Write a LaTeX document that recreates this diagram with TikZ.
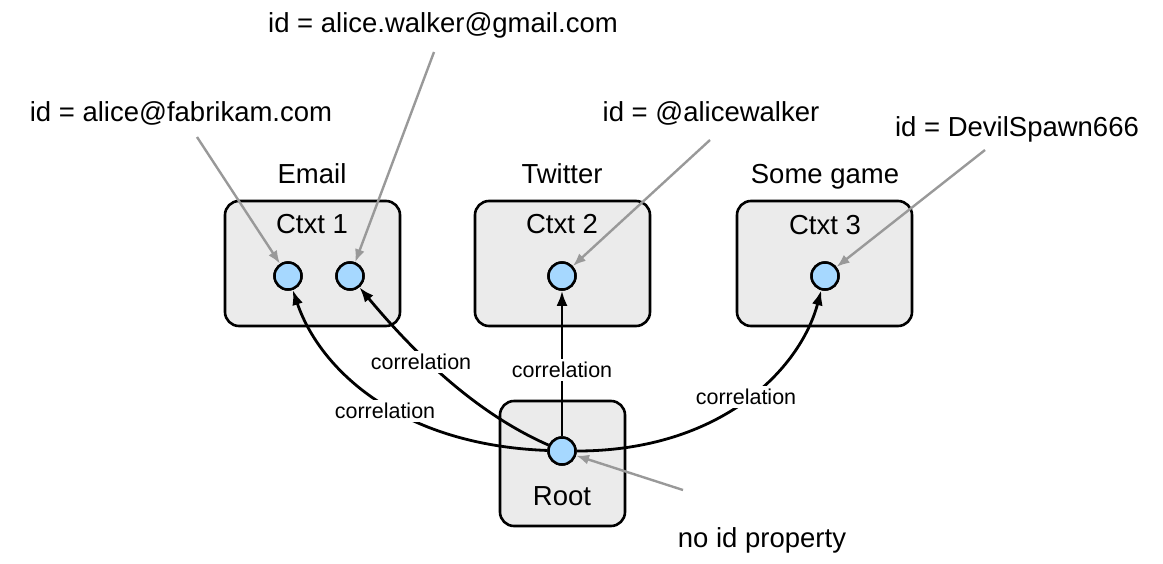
\documentclass[tikz,border=0pt]{standalone}
\usepackage{fontspec}
\setmainfont{Liberation Sans}
\usetikzlibrary{arrows.meta}
\definecolor{boxfill}{RGB}{235,235,235}
\definecolor{dotfill}{RGB}{166,216,255}
\definecolor{pgray}{RGB}{153,153,153}
\begin{document}
\begin{tikzpicture}[x=1pt,y=-1pt,
  ctxbox/.style={draw=black,line width=2.6pt,fill=boxfill,rounded corners=14pt,
    minimum width=175pt,minimum height=125pt,inner sep=0pt},
  rootbox/.style={ctxbox,minimum width=125pt},
  dot/.style={circle,draw=black,line width=2.5pt,fill=dotfill,minimum size=27pt,inner sep=0pt},
  big/.style={font=\fontsize{27.5}{32}\selectfont,anchor=base,inner sep=0pt},
  corr/.style={font=\fontsize{21.5}{25}\selectfont,fill=white,inner sep=3pt},
  blk/.style={draw=black,line width=2.8pt,-{Latex[length=15pt,width=11pt]}},
  gry/.style={draw=pgray,line width=2.4pt,-{Latex[length=13pt,width=10pt]}}]
\useasboundingbox (0,0) rectangle (1163,563);
% boxes
\node[ctxbox] (b1) at (312.5,263.5) {};
\node[ctxbox] (b2) at (562.5,263.5) {};
\node[ctxbox] (b3) at (824.5,263.5) {};
\node[rootbox] (br) at (562.5,463.5) {};
% titles
\node[big] (t1) at (312,183) {Email};
\node[big] (t2) at (562,183) {Twitter};
\node[big] (t3) at (825,183) {Some game};
\node[big] (n1) at (312,233) {Ctxt 1};
\node[big] (n2) at (562,233) {Ctxt 2};
\node[big] (n3) at (825,234) {Ctxt 3};
\node[big] (nr) at (562,505) {Root};
% id labels
\node[big] (l1) at (181,121) {id = alice@fabrikam.com};
\node[big] (l2) at (443,32) {id = alice.walker@gmail.com};
\node[big] (l3) at (711,121) {id = @alicewalker};
\node[big] (l4) at (1017,136) {id = DevilSpawn666};
\node[big] (l5) at (762,547) {no id property};
% dots (coordinates first for connectors)
\node[dot] (d1) at (288,276) {};
\node[dot] (d2) at (350,276) {};
\node[dot] (d3) at (562,276) {};
\node[dot] (d4) at (825,276) {};
\node[dot] (dr) at (562,451) {};
% correlation connectors
\draw[blk] (dr) .. controls (400,445) and (320,370) .. (d1);
\draw[blk] (dr) .. controls (480,415) and (420,360) .. (d2);
\draw[blk] (dr) -- (d3);
\draw[blk] (dr) .. controls (720,451) and (800,370) .. (d4);
\node[corr] (c1) at (385,411) {correlation};
\node[corr] (c2) at (421,362) {correlation};
\node[corr] (c3) at (562,370) {correlation};
\node[corr] (c4) at (746,397) {correlation};
% redraw dots on top
\node[dot] at (d1) {};
\node[dot] at (d2) {};
\node[dot] at (d3) {};
\node[dot] at (d4) {};
\node[dot] at (dr) {};
% gray pointers
\coordinate (g1) at (197,137);
\coordinate (g2) at (434,52);
\coordinate (g3) at (710,140);
\coordinate (g4) at (985,150);
\coordinate (g5) at (683,490);
\draw[gry] (g1) -- (d1);
\draw[gry] (g2) -- (d2);
\draw[gry] (g3) -- (d3);
\draw[gry] (g4) -- (d4);
\draw[gry] (g5) -- (dr);
\end{tikzpicture}
\end{document}
